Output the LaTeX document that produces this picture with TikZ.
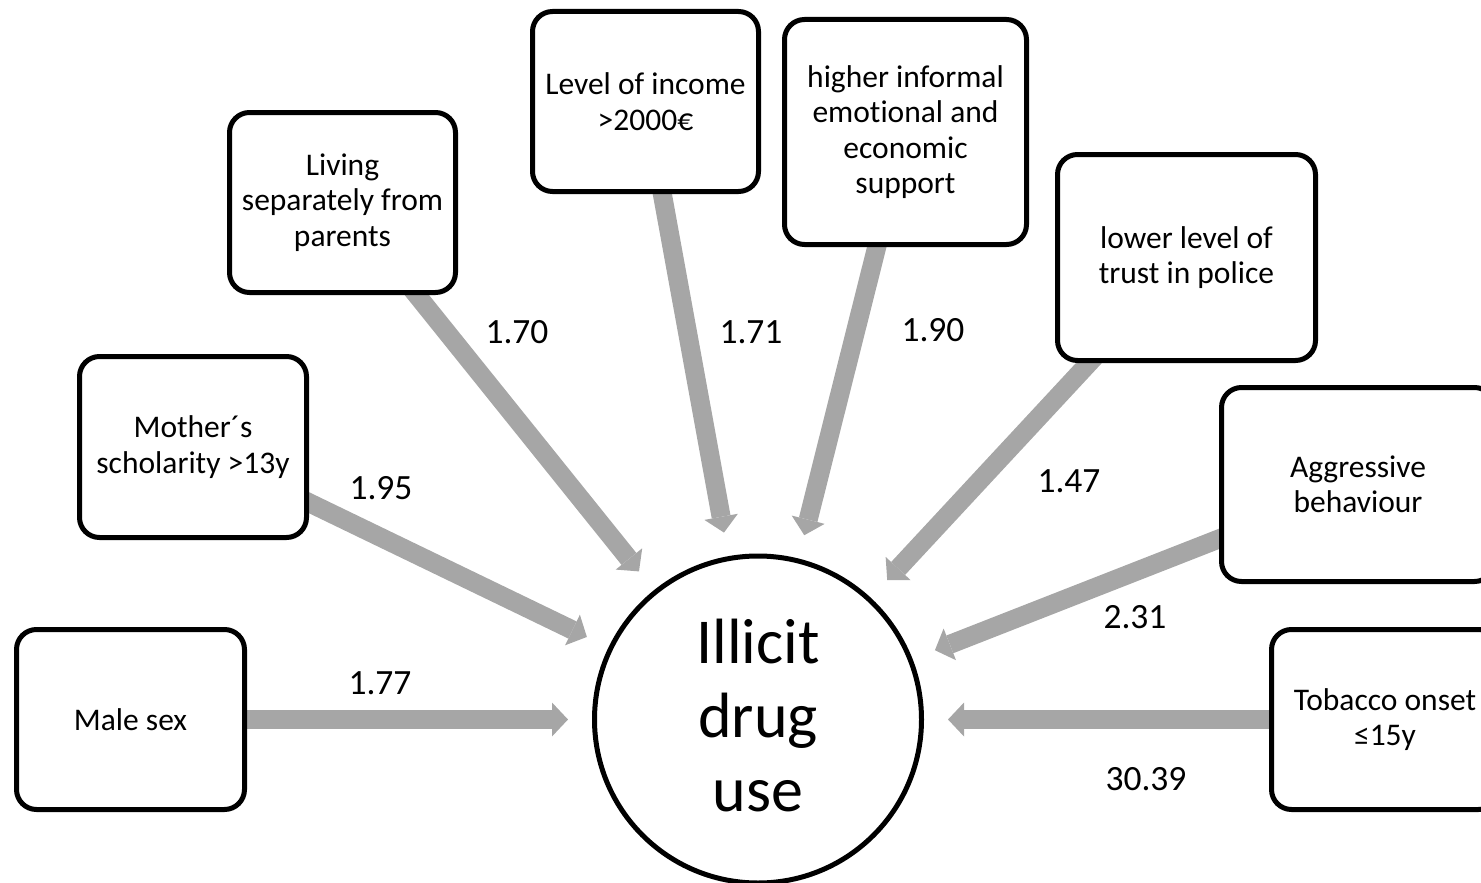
\documentclass[tikz,border=0pt]{standalone}
\usepackage{fontspec}
\setmainfont{Carlito}[Ligatures={NoCommon,NoContextual}]
\usetikzlibrary{arrows.meta,backgrounds}
\definecolor{arrgray}{HTML}{A6A6A6}
\begin{document}
\begin{tikzpicture}[x=1pt,y=-1pt,
  box/.style={draw=black, line width=5pt, rounded corners=20pt, fill=white, align=center,
    font=\fontsize{31.5}{35.5}\selectfont, inner sep=0pt},
  num/.style={font=\fontsize{35.5}{40}\selectfont, inner sep=0pt},
  arr/.style={draw=arrgray, line width=19pt,
    -{Triangle[length=16pt,width=34pt,line width=0pt]},
    shorten >=24pt, shorten <=-10pt}]
\useasboundingbox (0,0) rectangle (1481,883);
\clip (0,0) rectangle (1481,883);

\node[box, minimum width=228pt, minimum height=180pt] (male) at (130.5,719.5) {Male sex};
\node[box, minimum width=227pt, minimum height=181pt] (mother) at (193,447) {Mother´s\\scholarity >13y};
\node[box, minimum width=226pt, minimum height=180pt] (living) at (342.5,202.5) {Living\\separately from\\parents};
\node[box, minimum width=226pt, minimum height=180pt] (level) at (645.5,101.5) {Level of income\\>2000€};
\node[box, minimum width=242pt, minimum height=225pt] (higher) at (905.5,132) {higher informal\\emot\kern0pt ional and\\economic\\support};
\node[box, minimum width=258pt, minimum height=206pt] (lower) at (1186.5,257.5) {lower level of\\trust in police};
\node[box, minimum width=273pt, minimum height=194pt] (aggr) at (1358,484.5) {Aggressive\\behaviour};
\node[box, minimum width=227pt, minimum height=180pt] (tob) at (1385,719.5) {Tobacco onset\\≤15y};

\node[draw=black, circle, line width=5pt, minimum size=327pt, inner sep=0pt, fill=white] (ill) at (758,719.5) {};
\node[align=center, font=\fontsize{64}{74}\selectfont, inner sep=0pt] (illtext) at (758,716) {Illicit\\drug\\use};

\begin{pgfonlayer}{background}
\foreach \n in {male,mother,living,level,higher,lower,aggr,tob}
  \draw[arr] (\n) -- (ill);
\end{pgfonlayer}

\node[num] (l1) at (380,683) {1.77};
\node[num] (l2) at (381,488) {1.95};
\node[num] (l3) at (517,332) {1.70};
\node[num] (l4) at (751,332) {1.71};
\node[num] (l5) at (933,330) {1.90};
\node[num] (l6) at (1069,481) {1.47};
\node[num] (l7) at (1135,617) {2.31};
\node[num] (l8) at (1146,779) {30.39};
\end{tikzpicture}
\end{document}
